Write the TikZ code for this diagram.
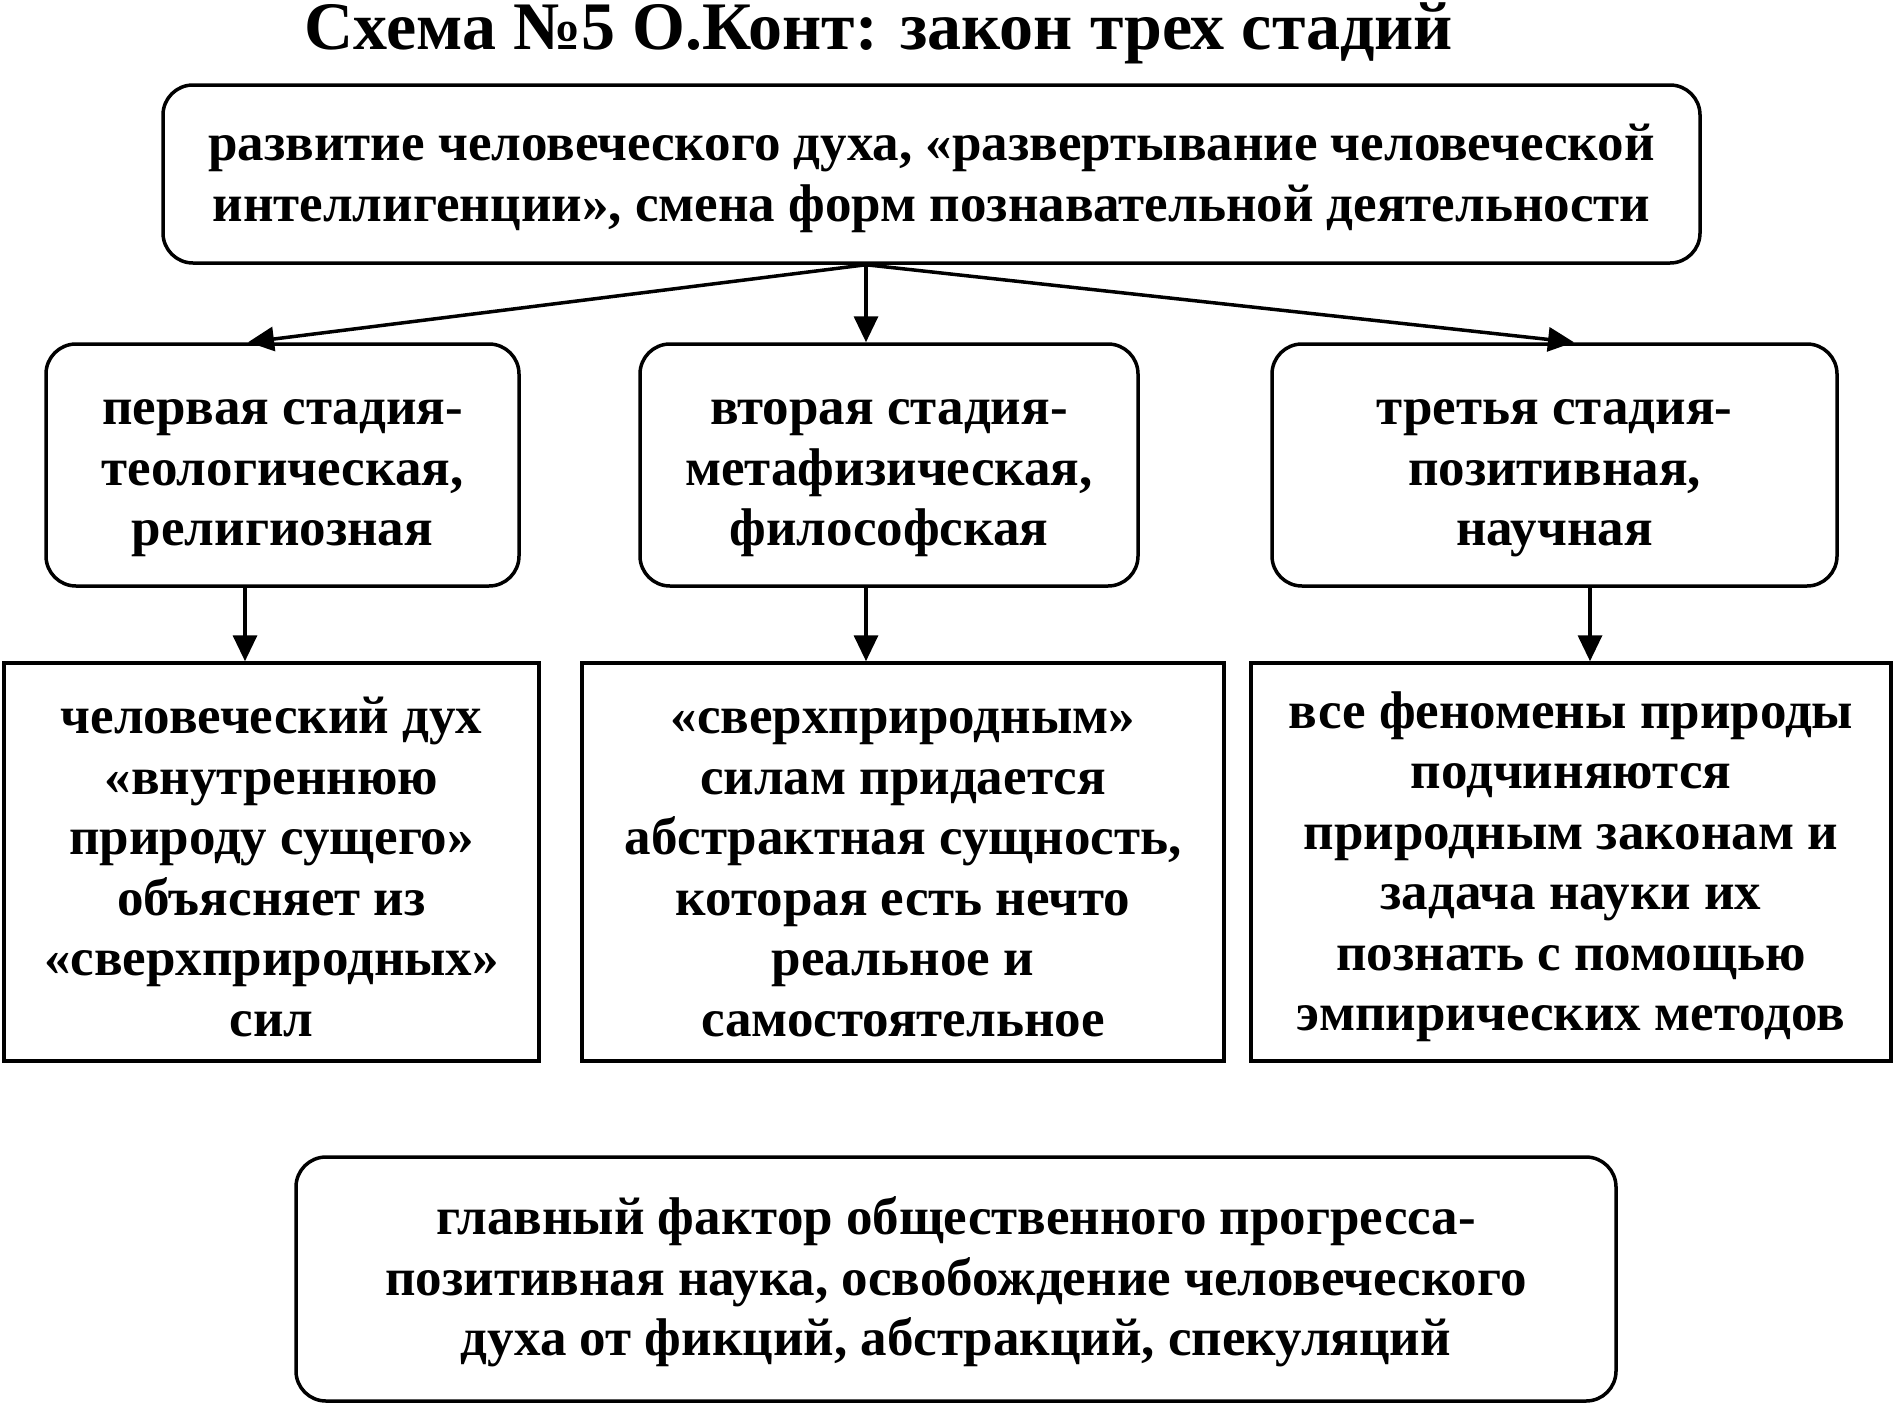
\documentclass[tikz,border=0pt]{standalone}
\usepackage{fontspec}
\setmainfont{Liberation Serif}
\usetikzlibrary{arrows.meta}

\begin{document}
\begin{tikzpicture}[x=1pt, y=-1pt, line width=3.5pt,
    main/.style = {draw, rounded corners=30pt, align=center, inner sep=0pt, font=\bfseries\fontsize{53}{60.5}\selectfont},
    box/.style = {draw, align=center, inner sep=0pt, font=\bfseries\fontsize{53}{60.5}\selectfont},
    >={Triangle[length=26pt, width=24pt]}]
        \useasboundingbox (0,0) rectangle (1894,1405);
        \node[inner sep=0pt] (t) at (879,33) {\bfseries\fontsize{68}{70}\selectfont Схема №5 О.Конт: закон трех стадий};
        \node[main, minimum width=1537pt, minimum height=178pt] (0) at (931.5,174) {\rule{0pt}{45pt}развитие человеческого духа, «развертывание человеческой\\интеллигенции», смена форм познавательной деятельности};
        \node[main, minimum width=473pt, minimum height=242pt] (1) at (282.5,465) {\rule{0pt}{52pt}первая стадия-\\теологическая,\\религиозная};
        \node[main, minimum width=498pt, minimum height=242pt] (2) at (889,465) {\rule{0pt}{52pt}вторая стадия-\\метафизическая,\\философская};
        \node[main, minimum width=565pt, minimum height=242pt] (3) at (1554.5,465) {\rule{0pt}{52pt}третья стадия-\\позитивная,\\научная};
        \node[box, minimum width=535pt, minimum height=398pt] (4) at (271.5,862) {\rule{0pt}{46pt}человеческий дух\\«внутреннюю\\природу сущего»\\объясняет из\\«сверхприродных»\\сил};
        \node[box, minimum width=642pt, minimum height=398pt] (5) at (903,862) {\rule{0pt}{46pt}«сверхприродным»\\силам придается\\абстрактная сущность,\\которая есть нечто\\реальное и\\самостоятельное};
        \node[box, minimum width=640pt, minimum height=398pt] (6) at (1571,862) {\rule{0pt}{46pt}все феномены природы\\подчиняются\\природным законам и\\задача науки их\\познать с помощью\\эмпирических методов};
        \node[main, minimum width=1320pt, minimum height=244pt] (7) at (956,1279) {\rule{0pt}{44pt}главный фактор общественного прогресса-\\позитивная наука, освобождение человеческого\\духа от фикций, абстракций, спекуляций};
        \coordinate (h) at ([xshift=-65.5pt]0.south);
        \draw[->] (h) -- ([xshift=-34.5pt]1.north);
        \draw[->] (h) -- ([xshift=-23pt]2.north);
        \draw[->] (h) -- ([xshift=19.5pt]3.north);
        \draw[->] ([xshift=-37.5pt]1.south) -- ([xshift=-26.5pt]4.north);
        \draw[->] ([xshift=-23pt]2.south) -- ([xshift=-37pt]5.north);
        \draw[->] ([xshift=35.5pt]3.south) -- ([xshift=19pt]6.north);
    \end{tikzpicture}
\end{document}
